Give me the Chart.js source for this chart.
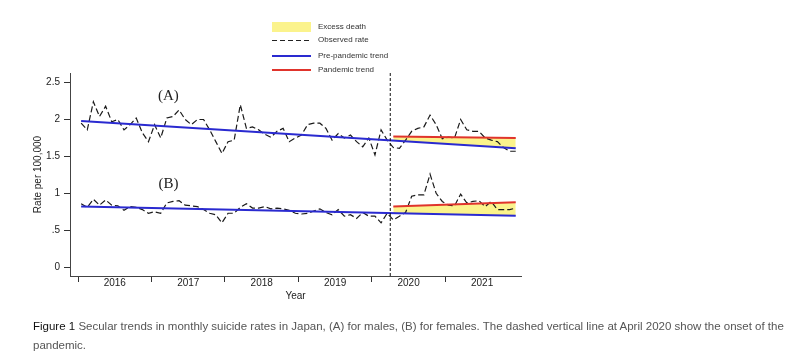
<!DOCTYPE html>
<html>
<head>
<meta charset="utf-8">
<script src="https://cdn.jsdelivr.net/npm/chart.js@4.4.1/dist/chart.umd.min.js"></script>
<style>
  body { margin: 0; background: #fff; font-family: "Liberation Sans", Arial, sans-serif; }
  #wrap { position: relative; width: 800px; height: 361px; }
  #chart { position: absolute; left: 0; top: 0; }
  .lg { position: absolute; left: 272px; font-size: 8px; color: #333; height: 10px; line-height: 10px; }
  .lg .sw { position: absolute; left: 0; width: 39px; }
  .lg .tx { position: absolute; left: 46px; white-space: nowrap; }
  .caption { position: absolute; left: 33px; top: 317px; width: 767px; font-size: 11.5px; line-height: 19px; color: #555; white-space: nowrap; }
  .caption b { color: #111; font-weight: normal; }
</style>
</head>
<body>
<div id="wrap">
  <canvas id="chart" width="800" height="361"></canvas>
  <div class="lg" style="top:22px"><span class="sw" style="top:0;height:10px;background:#fbf38c"></span><span class="tx">Excess death</span></div>
  <div class="lg" style="top:35px"><span class="sw" style="top:5px;height:1px;background:repeating-linear-gradient(90deg,#222 0 5px,transparent 5px 8px)"></span><span class="tx">Observed rate</span></div>
  <div class="lg" style="top:51px"><span class="sw" style="top:4px;border-top:2px solid #2a2ad0"></span><span class="tx">Pre-pandemic trend</span></div>
  <div class="lg" style="top:65px"><span class="sw" style="top:4px;border-top:2px solid #e0342c"></span><span class="tx">Pandemic trend</span></div>
  <div class="caption"><b>Figure 1</b> Secular trends in monthly suicide rates in Japan, (A) for males, (B) for females. The dashed vertical line at April 2020 show the onset of the<br>pandemic.</div>
</div>
<script>
// monthly rates, Jan 2016 .. Dec 2021
const firstYear = 2016;
const yearTicks = [2016, 2017, 2018, 2019, 2020, 2021];
const yTicks = [0, 0.5, 1, 1.5, 2, 2.5];
const yTickLabels = ["0", ".5", "1", "1.5", "2", "2.5"];

const ratesMales = [
  1.95, 1.86, 2.24, 2.04, 2.18, 1.97, 2.00, 1.86, 1.93, 2.02, 1.82, 1.70,
  1.93, 1.75, 2.02, 2.04, 2.13, 2.00, 1.93, 2.00, 2.00, 1.86, 1.70, 1.54,
  1.70, 1.72, 2.20, 1.88, 1.90, 1.86, 1.80, 1.76, 1.84, 1.88, 1.70, 1.75,
  1.79, 1.93, 1.95, 1.95, 1.88, 1.72, 1.81, 1.75, 1.79, 1.70, 1.63, 1.75,
  1.52, 1.86, 1.72, 1.62, 1.61, 1.72, 1.84, 1.88, 1.90, 2.06, 1.93, 1.74,
  1.76, 1.75, 2.00, 1.86, 1.84, 1.84, 1.75, 1.72, 1.70, 1.62, 1.57, 1.57
];
const ratesFemales = [
  0.86, 0.81, 0.92, 0.84, 0.91, 0.84, 0.83, 0.77, 0.82, 0.81, 0.78, 0.73,
  0.75, 0.73, 0.87, 0.89, 0.90, 0.84, 0.83, 0.82, 0.78, 0.73, 0.71, 0.60,
  0.73, 0.73, 0.81, 0.86, 0.80, 0.80, 0.82, 0.79, 0.80, 0.79, 0.77, 0.73,
  0.72, 0.73, 0.76, 0.79, 0.74, 0.71, 0.78, 0.69, 0.71, 0.66, 0.74, 0.69,
  0.69, 0.60, 0.73, 0.64, 0.69, 0.74, 0.96, 0.98, 0.98, 1.26, 1.00, 0.89,
  0.84, 0.83, 0.99, 0.87, 0.89, 0.90, 0.82, 0.89, 0.78, 0.78, 0.78, 0.80
];

// fitted trends, given at their first and last month index
const preTrendMonths = [0, 71];
const preTrendMales = [1.98, 1.61];
const preTrendFemales = [0.82, 0.695];
const pandemicMonths = [51, 71];
const pandemicTrendMales = [1.77, 1.75];
const pandemicTrendFemales = [0.82, 0.88];
const onsetMonth = 51; // April 2020

const monthX = i => firstYear + (i + 0.5) / 12;
const toPoints = (months, vals) => vals.map((v, k) => ({ x: monthX(months[k]), y: v }));
const series = vals => vals.map((v, i) => ({ x: monthX(i), y: v }));

const BLUE = "#2a2ad0", RED = "#e0342c", YELLOW = "#fbf38c";

const observed = data => ({
  data: data, borderColor: "#1a1a1a", borderWidth: 1.2, borderDash: [6, 3],
  pointRadius: 0, fill: false, order: 3
});
const trend = (data, color, order, fill) => ({
  data: data, borderColor: color, borderWidth: 2, pointRadius: 0,
  fill: fill, backgroundColor: YELLOW, order: order
});

const panelLabels = {
  id: "panelLabels",
  afterDatasetsDraw(chart) {
    const { ctx, chartArea, scales: { x, y } } = chart;
    const px = x.getPixelForValue(firstYear + onsetMonth / 12);
    ctx.save();
    ctx.strokeStyle = "#111";
    ctx.lineWidth = 1;
    ctx.setLineDash([3, 2]);
    ctx.beginPath();
    ctx.moveTo(px, chartArea.top);
    ctx.lineTo(px, chartArea.bottom);
    ctx.stroke();
    ctx.setLineDash([]);
    ctx.fillStyle = "#222";
    ctx.font = '15px "Liberation Serif", "Times New Roman", serif';
    ctx.textAlign = "center";
    ctx.textBaseline = "middle";
    ctx.fillText("(A)", x.getPixelForValue(2017.23), y.getPixelForValue(2.32));
    ctx.fillText("(B)", x.getPixelForValue(2017.23), y.getPixelForValue(1.13));
    ctx.restore();
  }
};

new Chart(document.getElementById("chart"), {
  type: "line",
  data: {
    datasets: [
      observed(series(ratesMales)),
      trend(toPoints(preTrendMonths, preTrendMales), BLUE, 2, false),
      trend(toPoints(pandemicMonths, pandemicTrendMales), RED, 1, 1),
      observed(series(ratesFemales)),
      trend(toPoints(preTrendMonths, preTrendFemales), BLUE, 2, false),
      trend(toPoints(pandemicMonths, pandemicTrendFemales), RED, 1, 4),
    ],
  },
  options: {
    responsive: false,
    animation: false,
    layout: { padding: { left: 28, right: 279, top: 73, bottom: 59 } },
    plugins: {
      legend: { display: false },
      tooltip: { enabled: false },
      filler: { drawTime: "beforeDatasetsDraw" },
    },
    scales: {
      x: {
        type: "linear",
        min: 2015.89,
        max: 2022.03,
        afterBuildTicks: s => {
          const t = [];
          yearTicks.forEach(yr => { t.push({ value: yr }); t.push({ value: yr + 0.5 }); });
          s.ticks = t;
        },
        afterFit: s => { s.height = 26; },
        ticks: {
          autoSkip: false, maxRotation: 0, padding: -5, color: "#222",
          font: { size: 10, family: "Liberation Sans" },
          callback: v => (v % 1 ? String(Math.floor(v)) : ""),
        },
        grid: {
          drawOnChartArea: false, tickLength: 6,
          tickColor: c => (c.tick && c.tick.value % 1 === 0 ? "#333" : "rgba(0,0,0,0)"),
        },
        border: { color: "#444" },
        title: { display: true, text: "Year", color: "#222", padding: 0, font: { size: 10, family: "Liberation Sans" } },
      },
      y: {
        min: -0.12,
        max: 2.63,
        afterBuildTicks: s => { s.ticks = yTicks.map(v => ({ value: v })); },
        afterFit: s => { s.width = 42; },
        ticks: {
          color: "#222", padding: 4,
          font: { size: 10, family: "Liberation Sans" },
          callback: v => yTickLabels[yTicks.indexOf(v)],
        },
        grid: { drawOnChartArea: false, tickLength: 6, tickColor: "#333" },
        border: { color: "#444" },
        title: { display: true, text: "Rate per 100,000", color: "#222", font: { size: 10, family: "Liberation Sans" } },
      },
    },
  },
  plugins: [panelLabels],
});
</script>
</body>
</html>
